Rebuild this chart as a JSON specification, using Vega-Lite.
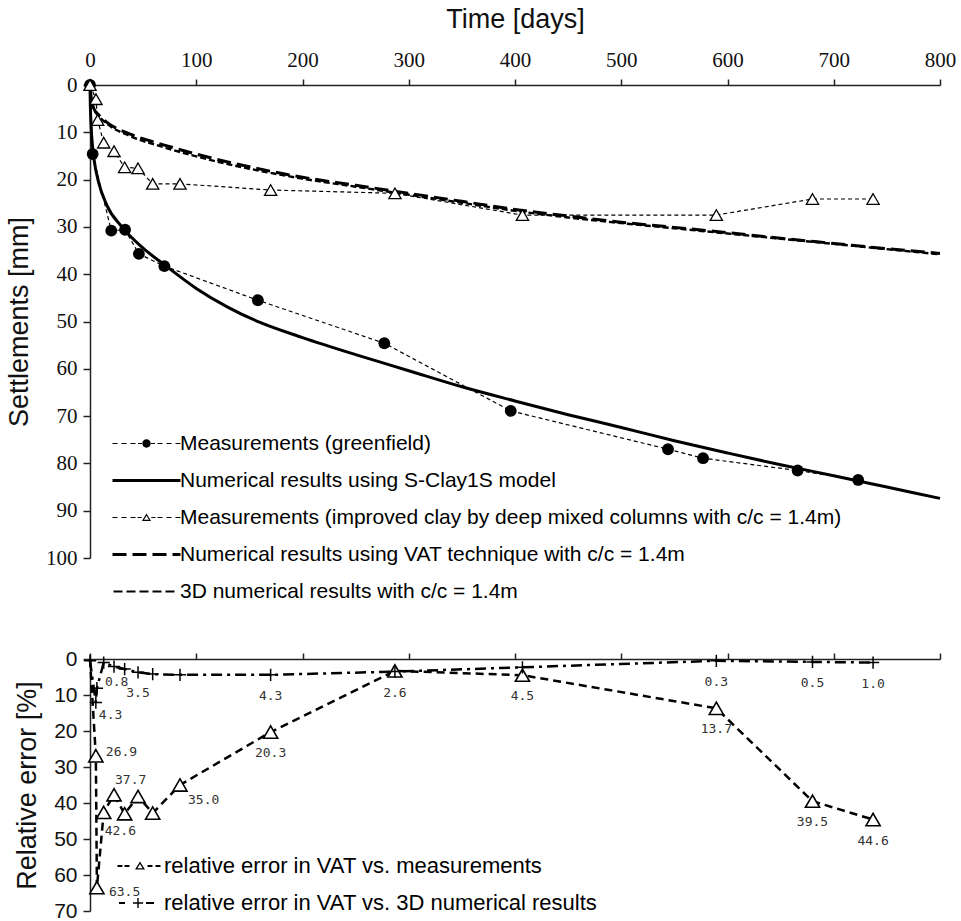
{
  "$schema": "https://vega.github.io/schema/vega-lite/v6.json",
  "background": "white",
  "padding": {"left": 5, "top": 5, "right": 5, "bottom": 5},
  "spacing": 101,
  "bounds": "flush",
  "resolve": {"scale": {"shape": "independent", "x": "independent", "y": "independent"}, "legend": {"shape": "independent"}},
  "config": {
    "view": {"stroke": null},
    "axis": {"grid": false, "domainColor": "#222", "tickColor": "#222", "domainWidth": 1.5, "tickWidth": 1.5, "labelColor": "#111", "titleColor": "#111", "titleFontWeight": "normal", "labelFlush": false}
  },
  "datasets": {
    "settle": [
      {"series": "Measurements (greenfield)", "t": 0, "s": 0},
      {"series": "Measurements (greenfield)", "t": 2.5, "s": 14.6},
      {"series": "Measurements (greenfield)", "t": 20, "s": 30.8},
      {"series": "Measurements (greenfield)", "t": 33, "s": 30.6},
      {"series": "Measurements (greenfield)", "t": 46, "s": 35.7},
      {"series": "Measurements (greenfield)", "t": 70, "s": 38.3},
      {"series": "Measurements (greenfield)", "t": 158, "s": 45.5},
      {"series": "Measurements (greenfield)", "t": 277, "s": 54.6},
      {"series": "Measurements (greenfield)", "t": 396, "s": 68.9},
      {"series": "Measurements (greenfield)", "t": 544, "s": 77.0},
      {"series": "Measurements (greenfield)", "t": 577, "s": 78.9},
      {"series": "Measurements (greenfield)", "t": 666, "s": 81.5},
      {"series": "Measurements (greenfield)", "t": 723, "s": 83.5},
      {"series": "Numerical results using S-Clay1S model", "t": 0, "s": 0},
      {"series": "Numerical results using S-Clay1S model", "t": 0.3, "s": 4},
      {"series": "Numerical results using S-Clay1S model", "t": 1, "s": 8.5},
      {"series": "Numerical results using S-Clay1S model", "t": 2, "s": 12},
      {"series": "Numerical results using S-Clay1S model", "t": 4, "s": 16},
      {"series": "Numerical results using S-Clay1S model", "t": 8, "s": 20.5},
      {"series": "Numerical results using S-Clay1S model", "t": 16, "s": 25.5},
      {"series": "Numerical results using S-Clay1S model", "t": 30, "s": 30},
      {"series": "Numerical results using S-Clay1S model", "t": 50, "s": 34.5},
      {"series": "Numerical results using S-Clay1S model", "t": 70, "s": 38},
      {"series": "Numerical results using S-Clay1S model", "t": 100, "s": 43.0},
      {"series": "Numerical results using S-Clay1S model", "t": 130, "s": 47.0},
      {"series": "Numerical results using S-Clay1S model", "t": 160, "s": 50.2},
      {"series": "Numerical results using S-Clay1S model", "t": 200, "s": 53.4},
      {"series": "Numerical results using S-Clay1S model", "t": 250, "s": 57.0},
      {"series": "Numerical results using S-Clay1S model", "t": 300, "s": 60.4},
      {"series": "Numerical results using S-Clay1S model", "t": 350, "s": 63.8},
      {"series": "Numerical results using S-Clay1S model", "t": 400, "s": 66.8},
      {"series": "Numerical results using S-Clay1S model", "t": 450, "s": 69.7},
      {"series": "Numerical results using S-Clay1S model", "t": 500, "s": 72.4},
      {"series": "Numerical results using S-Clay1S model", "t": 550, "s": 75.2},
      {"series": "Numerical results using S-Clay1S model", "t": 600, "s": 77.8},
      {"series": "Numerical results using S-Clay1S model", "t": 650, "s": 80.3},
      {"series": "Numerical results using S-Clay1S model", "t": 700, "s": 82.6},
      {"series": "Numerical results using S-Clay1S model", "t": 750, "s": 85.0},
      {"series": "Numerical results using S-Clay1S model", "t": 800, "s": 87.4},
      {"series": "Measurements (improved clay by deep mixed columns with c/c = 1.4m)", "t": 0, "s": 0},
      {"series": "Measurements (improved clay by deep mixed columns with c/c = 1.4m)", "t": 5.6, "s": 3.0},
      {"series": "Measurements (improved clay by deep mixed columns with c/c = 1.4m)", "t": 7.2, "s": 7.4},
      {"series": "Measurements (improved clay by deep mixed columns with c/c = 1.4m)", "t": 12.9, "s": 12.2},
      {"series": "Measurements (improved clay by deep mixed columns with c/c = 1.4m)", "t": 22.6, "s": 14.0},
      {"series": "Measurements (improved clay by deep mixed columns with c/c = 1.4m)", "t": 32.6, "s": 17.4},
      {"series": "Measurements (improved clay by deep mixed columns with c/c = 1.4m)", "t": 45.2, "s": 17.6},
      {"series": "Measurements (improved clay by deep mixed columns with c/c = 1.4m)", "t": 59, "s": 20.9},
      {"series": "Measurements (improved clay by deep mixed columns with c/c = 1.4m)", "t": 84.7, "s": 20.9},
      {"series": "Measurements (improved clay by deep mixed columns with c/c = 1.4m)", "t": 170, "s": 22.2},
      {"series": "Measurements (improved clay by deep mixed columns with c/c = 1.4m)", "t": 287, "s": 22.9},
      {"series": "Measurements (improved clay by deep mixed columns with c/c = 1.4m)", "t": 407, "s": 27.5},
      {"series": "Measurements (improved clay by deep mixed columns with c/c = 1.4m)", "t": 589.5, "s": 27.5},
      {"series": "Measurements (improved clay by deep mixed columns with c/c = 1.4m)", "t": 680, "s": 24.1},
      {"series": "Measurements (improved clay by deep mixed columns with c/c = 1.4m)", "t": 737, "s": 24.1},
      {"series": "Numerical results using VAT technique with c/c = 1.4m", "t": 0, "s": 0},
      {"series": "Numerical results using VAT technique with c/c = 1.4m", "t": 1, "s": 2.5},
      {"series": "Numerical results using VAT technique with c/c = 1.4m", "t": 3.5, "s": 4.9},
      {"series": "Numerical results using VAT technique with c/c = 1.4m", "t": 8, "s": 6.3},
      {"series": "Numerical results using VAT technique with c/c = 1.4m", "t": 16, "s": 7.9},
      {"series": "Numerical results using VAT technique with c/c = 1.4m", "t": 38, "s": 10.4},
      {"series": "Numerical results using VAT technique with c/c = 1.4m", "t": 70, "s": 12.7},
      {"series": "Numerical results using VAT technique with c/c = 1.4m", "t": 100, "s": 14.6},
      {"series": "Numerical results using VAT technique with c/c = 1.4m", "t": 150, "s": 17.3},
      {"series": "Numerical results using VAT technique with c/c = 1.4m", "t": 200, "s": 19.5},
      {"series": "Numerical results using VAT technique with c/c = 1.4m", "t": 250, "s": 21.2},
      {"series": "Numerical results using VAT technique with c/c = 1.4m", "t": 300, "s": 22.9},
      {"series": "Numerical results using VAT technique with c/c = 1.4m", "t": 350, "s": 24.6},
      {"series": "Numerical results using VAT technique with c/c = 1.4m", "t": 400, "s": 26.3},
      {"series": "Numerical results using VAT technique with c/c = 1.4m", "t": 450, "s": 27.7},
      {"series": "Numerical results using VAT technique with c/c = 1.4m", "t": 500, "s": 29.0},
      {"series": "Numerical results using VAT technique with c/c = 1.4m", "t": 550, "s": 30.1},
      {"series": "Numerical results using VAT technique with c/c = 1.4m", "t": 600, "s": 31.2},
      {"series": "Numerical results using VAT technique with c/c = 1.4m", "t": 650, "s": 32.4},
      {"series": "Numerical results using VAT technique with c/c = 1.4m", "t": 700, "s": 33.5},
      {"series": "Numerical results using VAT technique with c/c = 1.4m", "t": 750, "s": 34.6},
      {"series": "Numerical results using VAT technique with c/c = 1.4m", "t": 800, "s": 35.6},
      {"series": "3D numerical results with c/c = 1.4m", "t": 0, "s": 0},
      {"series": "3D numerical results with c/c = 1.4m", "t": 1, "s": 2.5},
      {"series": "3D numerical results with c/c = 1.4m", "t": 3.5, "s": 5.0},
      {"series": "3D numerical results with c/c = 1.4m", "t": 8, "s": 6.5},
      {"series": "3D numerical results with c/c = 1.4m", "t": 16, "s": 8.2},
      {"series": "3D numerical results with c/c = 1.4m", "t": 38, "s": 10.8},
      {"series": "3D numerical results with c/c = 1.4m", "t": 70, "s": 13.2},
      {"series": "3D numerical results with c/c = 1.4m", "t": 100, "s": 15.1},
      {"series": "3D numerical results with c/c = 1.4m", "t": 150, "s": 17.7},
      {"series": "3D numerical results with c/c = 1.4m", "t": 200, "s": 19.8},
      {"series": "3D numerical results with c/c = 1.4m", "t": 250, "s": 21.5},
      {"series": "3D numerical results with c/c = 1.4m", "t": 300, "s": 23.2},
      {"series": "3D numerical results with c/c = 1.4m", "t": 350, "s": 24.9},
      {"series": "3D numerical results with c/c = 1.4m", "t": 400, "s": 26.6},
      {"series": "3D numerical results with c/c = 1.4m", "t": 450, "s": 28.0},
      {"series": "3D numerical results with c/c = 1.4m", "t": 500, "s": 29.2},
      {"series": "3D numerical results with c/c = 1.4m", "t": 550, "s": 30.3},
      {"series": "3D numerical results with c/c = 1.4m", "t": 600, "s": 31.4},
      {"series": "3D numerical results with c/c = 1.4m", "t": 650, "s": 32.5},
      {"series": "3D numerical results with c/c = 1.4m", "t": 700, "s": 33.6},
      {"series": "3D numerical results with c/c = 1.4m", "t": 750, "s": 34.7},
      {"series": "3D numerical results with c/c = 1.4m", "t": 800, "s": 35.8}
    ],
    "err": [
      {"series": "relative error in VAT vs. measurements", "t": 0, "e": 0, "label": null},
      {"series": "relative error in VAT vs. measurements", "t": 5.5, "e": 26.9, "label": "26.9"},
      {"series": "relative error in VAT vs. measurements", "t": 6.5, "e": 63.5, "label": "63.5"},
      {"series": "relative error in VAT vs. measurements", "t": 12.9, "e": 42.6, "label": "42.6"},
      {"series": "relative error in VAT vs. measurements", "t": 22.6, "e": 37.7, "label": "37.7"},
      {"series": "relative error in VAT vs. measurements", "t": 32.6, "e": 43.0, "label": null},
      {"series": "relative error in VAT vs. measurements", "t": 45.2, "e": 38.2, "label": null},
      {"series": "relative error in VAT vs. measurements", "t": 59, "e": 42.8, "label": null},
      {"series": "relative error in VAT vs. measurements", "t": 84.7, "e": 35.0, "label": "35.0"},
      {"series": "relative error in VAT vs. measurements", "t": 170, "e": 20.3, "label": "20.3"},
      {"series": "relative error in VAT vs. measurements", "t": 287, "e": 3.3, "label": null},
      {"series": "relative error in VAT vs. measurements", "t": 407, "e": 4.5, "label": "4.5"},
      {"series": "relative error in VAT vs. measurements", "t": 589.5, "e": 13.7, "label": "13.7"},
      {"series": "relative error in VAT vs. measurements", "t": 680, "e": 39.5, "label": "39.5"},
      {"series": "relative error in VAT vs. measurements", "t": 737, "e": 44.6, "label": "44.6"},
      {"series": "relative error in VAT vs. 3D numerical results", "t": 0, "e": 0.5, "label": null},
      {"series": "relative error in VAT vs. 3D numerical results", "t": 5.5, "e": 12.1, "label": "4.3"},
      {"series": "relative error in VAT vs. 3D numerical results", "t": 6.5, "e": 8.1, "label": "0.8"},
      {"series": "relative error in VAT vs. 3D numerical results", "t": 12.9, "e": 1.0, "label": null},
      {"series": "relative error in VAT vs. 3D numerical results", "t": 22.6, "e": 2.1, "label": null},
      {"series": "relative error in VAT vs. 3D numerical results", "t": 32.6, "e": 2.8, "label": null},
      {"series": "relative error in VAT vs. 3D numerical results", "t": 45.2, "e": 3.7, "label": "3.5"},
      {"series": "relative error in VAT vs. 3D numerical results", "t": 59, "e": 4.2, "label": null},
      {"series": "relative error in VAT vs. 3D numerical results", "t": 84.7, "e": 4.4, "label": null},
      {"series": "relative error in VAT vs. 3D numerical results", "t": 170, "e": 4.4, "label": "4.3"},
      {"series": "relative error in VAT vs. 3D numerical results", "t": 287, "e": 3.5, "label": "2.6"},
      {"series": "relative error in VAT vs. 3D numerical results", "t": 407, "e": 2.3, "label": null},
      {"series": "relative error in VAT vs. 3D numerical results", "t": 589.5, "e": 0.5, "label": "0.3"},
      {"series": "relative error in VAT vs. 3D numerical results", "t": 680, "e": 0.8, "label": "0.5"},
      {"series": "relative error in VAT vs. 3D numerical results", "t": 737, "e": 1.0, "label": "1.0"}
    ]
  },
  "vconcat": [
    {
      "width": 850,
      "height": 473,
      "data": {"name": "settle"},
      "encoding": {
        "x": {"field": "t", "type": "quantitative",
          "scale": {"domain": [0, 800], "nice": false},
          "axis": {"orient": "top", "values": [0, 100, 200, 300, 400, 500, 600, 700, 800], "title": "Time [days]", "titleFont": "Liberation Sans", "titleFontSize": 27, "titlePadding": 16, "labelFont": "Liberation Serif", "labelFontSize": 21, "labelPadding": 9, "tickSize": 6}},
        "y": {"field": "s", "type": "quantitative",
          "scale": {"domain": [0, 100], "reverse": true, "nice": false},
          "axis": {"values": [0, 10, 20, 30, 40, 50, 60, 70, 80, 90, 100], "title": "Settlements [mm]", "titleFont": "Liberation Sans", "titleFontSize": 27, "titlePadding": 12, "labelFont": "Liberation Serif", "labelFontSize": 21, "labelPadding": 6, "tickSize": 7}}
      },
      "layer": [
        {
          "transform": [{"filter": "datum.series === 'Numerical results using S-Clay1S model'"}],
          "mark": {"type": "line", "color": "black", "strokeWidth": 3, "interpolate": "monotone"}
        },
        {
          "transform": [{"filter": "datum.series === 'Numerical results using VAT technique with c/c = 1.4m'"}],
          "mark": {"type": "line", "color": "black", "strokeWidth": 3, "strokeDash": [14, 6], "strokeCap": "butt", "interpolate": "monotone"}
        },
        {
          "transform": [{"filter": "datum.series === '3D numerical results with c/c = 1.4m'"}],
          "mark": {"type": "line", "color": "black", "strokeWidth": 2.4, "strokeDash": [6, 3], "strokeCap": "butt", "interpolate": "monotone"}
        },
        {
          "transform": [{"filter": "datum.series === 'Measurements (greenfield)' || datum.series === 'Measurements (improved clay by deep mixed columns with c/c = 1.4m)'"}],
          "mark": {"type": "line", "color": "black", "strokeCap": "butt", "strokeWidth": 1.2, "strokeDash": [4, 3]},
          "encoding": {"detail": {"field": "series", "type": "nominal"}}
        },
        {
          "transform": [{"filter": "datum.series === 'Measurements (greenfield)'"}],
          "mark": {"type": "point", "shape": "circle", "filled": true, "color": "black", "size": 140, "opacity": 1}
        },
        {
          "transform": [{"filter": "datum.series === 'Measurements (improved clay by deep mixed columns with c/c = 1.4m)'"}],
          "mark": {"type": "point", "shape": "triangle-up", "filled": true, "fill": "white", "stroke": "black", "strokeWidth": 1.3, "size": 150, "opacity": 1}
        },
        {
          "mark": {"type": "point", "filled": true, "color": "black", "opacity": 0, "strokeWidth": 0},
          "encoding": {
            "shape": {"field": "series", "type": "nominal",
              "scale": {"domain": ["Measurements (greenfield)", "Numerical results using S-Clay1S model", "Measurements (improved clay by deep mixed columns with c/c = 1.4m)", "Numerical results using VAT technique with c/c = 1.4m", "3D numerical results with c/c = 1.4m"],
                "range": [
                  "M-3.4,-0.06H-2.9V0.06H-3.4ZM-2.5,-0.06H-2V0.06H-2.5ZM-1.6,-0.06H-1.1V0.06H-1.6ZM-0.85,-0.06H-0.45V0.06H-0.85ZM0.45,-0.06H0.85V0.06H0.45ZM1.1,-0.06H1.6V0.06H1.1ZM2,-0.06H2.5V0.06H2ZM2.9,-0.06H3.4V0.06H2.9ZM0.42,0A0.42,0.42,0,1,1,-0.42,0A0.42,0.42,0,1,1,0.42,0Z",
                  "M-3.4,-0.15H3.4V0.15H-3.4Z",
                  "M-3.4,-0.06H-2.9V0.06H-3.4ZM-2.5,-0.06H-2V0.06H-2.5ZM-1.6,-0.06H-1.1V0.06H-1.6ZM-0.9,-0.06H-0.48V0.06H-0.9ZM0.48,-0.06H0.9V0.06H0.48ZM1.1,-0.06H1.6V0.06H1.1ZM2,-0.06H2.5V0.06H2ZM2.9,-0.06H3.4V0.06H2.9ZM0,-0.4L0.46,0.34L-0.46,0.34ZM0,-0.17L-0.25,0.23L0.25,0.23Z",
                  "M-3.4,-0.15H-2V0.15H-3.4ZM-1.4,-0.15H0V0.15H-1.4ZM0.6,-0.15H2V0.15H0.6ZM2.6,-0.15H3.4V0.15H2.6Z",
                  "M-3.3,-0.11H-2.4V0.11H-3.3ZM-2,-0.11H-1.1V0.11H-2ZM-0.7,-0.11H0.2V0.11H-0.7ZM0.6,-0.11H1.5V0.11H0.6ZM1.9,-0.11H2.8V0.11H1.9Z"
                ]},
              "legend": {"orient": "none", "legendX": 46, "legendY": 348, "title": null, "padding": 0, "labelFont": "Liberation Sans", "labelFontSize": 21, "labelColor": "black", "labelLimit": 900, "symbolSize": 400, "symbolStrokeWidth": 0, "symbolFillColor": "black", "symbolOpacity": 1, "labelOffset": 23, "rowPadding": 15}}
          }
        }
      ]
    },
    {
      "width": 850,
      "height": 252,
      "data": {"name": "err"},
      "encoding": {
        "x": {"field": "t", "type": "quantitative",
          "scale": {"domain": [0, 800], "nice": false},
          "axis": {"orient": "top", "values": [0, 100, 200, 300, 400, 500, 600, 700, 800], "title": null, "labels": false, "tickSize": 6}},
        "y": {"field": "e", "type": "quantitative",
          "scale": {"domain": [0, 70], "reverse": true, "nice": false},
          "axis": {"values": [0, 10, 20, 30, 40, 50, 60, 70], "title": "Relative error [%]", "titleFont": "Liberation Sans", "titleFontSize": 27, "titlePadding": 12, "labelFont": "Liberation Sans", "labelFontSize": 21, "labelPadding": 6, "tickSize": 7}}
      },
      "layer": [
        {
          "transform": [{"filter": "datum.series === 'relative error in VAT vs. measurements'"}],
          "mark": {"type": "line", "color": "black", "strokeWidth": 2.5, "strokeCap": "butt", "strokeDash": [8, 5]}
        },
        {
          "transform": [{"filter": "datum.series === 'relative error in VAT vs. 3D numerical results'"}],
          "mark": {"type": "line", "color": "black", "strokeWidth": 2.5, "strokeCap": "butt", "strokeDash": [11, 5, 3, 5]}
        },
        {
          "transform": [{"filter": "datum.series === 'relative error in VAT vs. measurements' && datum.t > 0"}],
          "mark": {"type": "point", "shape": "triangle-up", "filled": true, "fill": "white", "stroke": "black", "strokeWidth": 1.6, "size": 200, "opacity": 1}
        },
        {
          "transform": [{"filter": "datum.series === 'relative error in VAT vs. 3D numerical results'"}],
          "mark": {"type": "point", "shape": "M-1,0H1M0,-1V1", "filled": false, "stroke": "black", "strokeWidth": 1.5, "size": 150, "opacity": 1}
        },
        {
          "mark": {"type": "point", "filled": true, "color": "black", "opacity": 0, "strokeWidth": 0},
          "encoding": {
            "shape": {"field": "series", "type": "nominal",
              "scale": {"domain": ["relative error in VAT vs. measurements", "relative error in VAT vs. 3D numerical results"],
                "range": [
                  "M-2.25,-0.09H-1.75V0.09H-2.25ZM-1.55,-0.09H-1.05V0.09H-1.55ZM0.75,-0.09H1.25V0.09H0.75ZM1.55,-0.09H2.05V0.09H1.55ZM0,-0.45L0.5,0.35L-0.5,0.35ZM0,-0.2L-0.26,0.22L0.26,0.22Z",
                  "M-2.1,-0.09H-1.5V0.09H-2.1ZM-0.7,-0.07H0.3V0.07H-0.7ZM-0.27,-0.5H-0.13V0.5H-0.27ZM0.6,-0.09H1.4V0.09H0.6Z"
                ]},
              "legend": {"orient": "none", "legendX": 39, "legendY": 196, "title": null, "padding": 0, "labelFont": "Liberation Sans", "labelFontSize": 22, "labelColor": "black", "labelLimit": 900, "symbolSize": 400, "symbolStrokeWidth": 0, "symbolFillColor": "black", "symbolOpacity": 1, "labelOffset": 13, "rowPadding": 15}}
          }
        },
        {
          "transform": [{"filter": "datum.label != null && datum.t > 40 && datum.label !== '35.0'"}],
          "mark": {"type": "text", "font": "DejaVu Sans Mono", "fontSize": 13, "color": "#333", "align": "center", "baseline": "middle", "dy": 21},
          "encoding": {"text": {"field": "label"}}
        },
        {
          "transform": [{"filter": "datum.label === '35.0'"}],
          "mark": {"type": "text", "font": "DejaVu Sans Mono", "fontSize": 13, "color": "#333", "align": "left", "baseline": "middle", "dx": 8, "dy": 15},
          "encoding": {"text": {"field": "label"}}
        },
        {
          "transform": [{"filter": "datum.label === '42.6'"}],
          "mark": {"type": "text", "font": "DejaVu Sans Mono", "fontSize": 13, "color": "#333", "align": "left", "baseline": "middle", "dx": 1, "dy": 19},
          "encoding": {"text": {"field": "label"}}
        },
        {
          "transform": [{"filter": "datum.label === '37.7'"}],
          "mark": {"type": "text", "font": "DejaVu Sans Mono", "fontSize": 13, "color": "#333", "align": "left", "baseline": "middle", "dx": 1, "dy": -15},
          "encoding": {"text": {"field": "label"}}
        },
        {
          "transform": [{"filter": "datum.label === '26.9'"}],
          "mark": {"type": "text", "font": "DejaVu Sans Mono", "fontSize": 13, "color": "#333", "align": "left", "baseline": "middle", "dx": 10, "dy": -4},
          "encoding": {"text": {"field": "label"}}
        },
        {
          "transform": [{"filter": "datum.label === '63.5'"}],
          "mark": {"type": "text", "font": "DejaVu Sans Mono", "fontSize": 13, "color": "#333", "align": "left", "baseline": "middle", "dx": 12, "dy": 4},
          "encoding": {"text": {"field": "label"}}
        },
        {
          "transform": [{"filter": "datum.label === '4.3' && datum.t < 10"}],
          "mark": {"type": "text", "font": "DejaVu Sans Mono", "fontSize": 13, "color": "#333", "align": "left", "baseline": "middle", "dx": 3, "dy": 12},
          "encoding": {"text": {"field": "label"}}
        },
        {
          "transform": [{"filter": "datum.label === '0.8'"}],
          "mark": {"type": "text", "font": "DejaVu Sans Mono", "fontSize": 13, "color": "#333", "align": "left", "baseline": "middle", "dx": 8, "dy": -6},
          "encoding": {"text": {"field": "label"}}
        }
      ]
    }
  ]
}
